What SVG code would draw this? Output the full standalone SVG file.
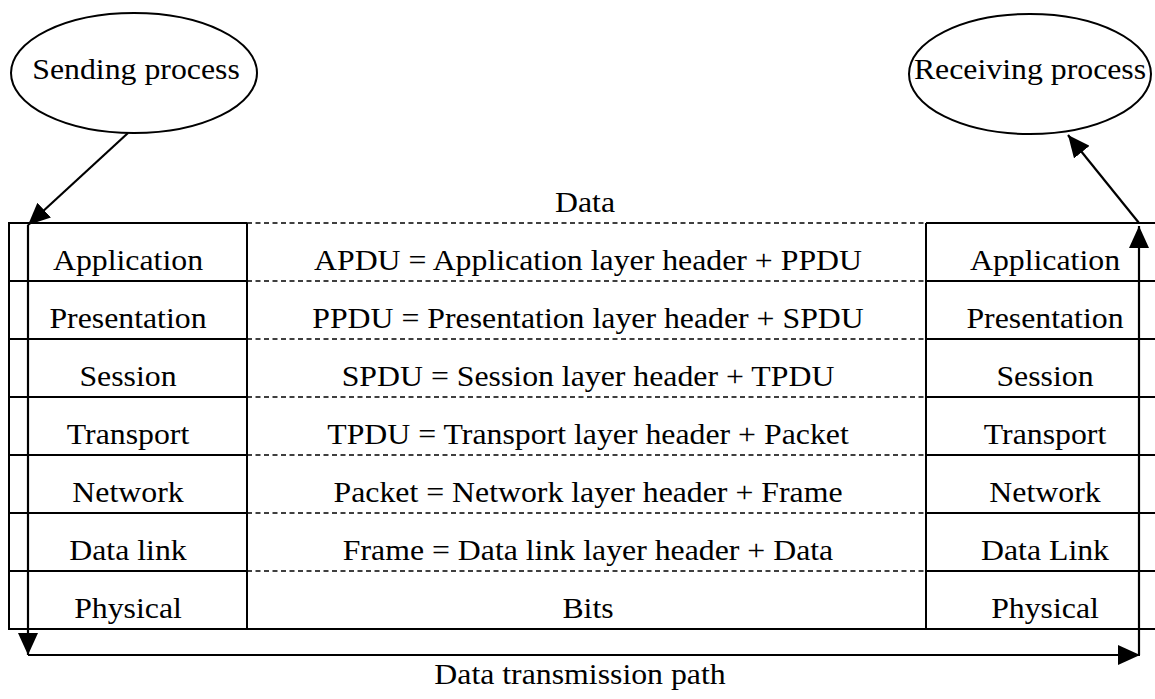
<svg xmlns="http://www.w3.org/2000/svg" width="1155" height="699" viewBox="0 0 1155 699">
  <style>
    .t { font-family: "Liberation Serif", "Times New Roman", serif; font-size: 30px; fill: #000; text-anchor: middle; }
    .solid { stroke: #000; stroke-width: 2; fill: none; }
    .dash { stroke: #000; stroke-width: 1.6; fill: none; stroke-dasharray: 5 3.5; }
    .arrow { stroke: #000; stroke-width: 2.2; fill: none; marker-end: url(#head); }
    .proc { fill: #fff; stroke: #000; stroke-width: 2; }
  </style>
  <defs>
    <marker id="head" viewBox="0 0 22 20" refX="22" refY="10" markerWidth="22" markerHeight="20" markerUnits="userSpaceOnUse" orient="auto">
      <path d="M0,0 L22,10 L0,20 z" fill="#000"/>
    </marker>
  </defs>
  <rect width="1155" height="699" fill="#fff"/>

  <!-- end processes -->
  <g id="sending-process">
    <ellipse class="proc" cx="134" cy="73" rx="123" ry="60"/>
    <text class="t" transform="translate(136,79) scale(1.06,1)">Sending process</text>
  </g>
  <g id="receiving-process">
    <ellipse class="proc" cx="1030" cy="74" rx="121" ry="60"/>
    <text class="t" transform="translate(1030,79) scale(1.06,1)">Receiving process</text>
  </g>

  <!-- layer stack frame -->
  <g id="layer-table">
    <!-- outer frame, left column and right column -->
    <path class="solid" d="M1155,223 H926 M247,223 H9 V629 H1155"/>
    <line class="solid" x1="247" y1="223" x2="247" y2="629"/>
    <line class="solid" x1="926" y1="223" x2="926" y2="629"/>
    <!-- row separators: solid in side columns, dashed across the PDU column -->
    <path class="solid" d="M9,281 H247 M9,339 H247 M9,397 H247 M9,455 H247 M9,513 H247 M9,571 H247"/>
    <path class="solid" d="M926,281 H1155 M926,339 H1155 M926,397 H1155 M926,455 H1155 M926,513 H1155 M926,571 H1155"/>
    <path class="dash" d="M247,223 H926 M247,281 H926 M247,339 H926 M247,397 H926 M247,455 H926 M247,513 H926 M247,571 H926"/>
  </g>

  <g id="label-data"><text class="t" transform="translate(585,212) scale(1.06,1)">Data</text></g>

  <g id="row-application">
    <text class="t" transform="translate(128,270) scale(1.06,1)">Application</text>
    <text class="t" transform="translate(588,270) scale(1.06,1)">APDU = Application layer header + PPDU</text>
    <text class="t" transform="translate(1045,270) scale(1.06,1)">Application</text>
  </g>
  <g id="row-presentation">
    <text class="t" transform="translate(128,328) scale(1.06,1)">Presentation</text>
    <text class="t" transform="translate(588,328) scale(1.06,1)">PPDU = Presentation layer header + SPDU</text>
    <text class="t" transform="translate(1045,328) scale(1.06,1)">Presentation</text>
  </g>
  <g id="row-session">
    <text class="t" transform="translate(128,386) scale(1.06,1)">Session</text>
    <text class="t" transform="translate(588,386) scale(1.06,1)">SPDU = Session layer header + TPDU</text>
    <text class="t" transform="translate(1045,386) scale(1.06,1)">Session</text>
  </g>
  <g id="row-transport">
    <text class="t" transform="translate(128,444) scale(1.06,1)">Transport</text>
    <text class="t" transform="translate(588,444) scale(1.06,1)">TPDU = Transport layer header + Packet</text>
    <text class="t" transform="translate(1045,444) scale(1.06,1)">Transport</text>
  </g>
  <g id="row-network">
    <text class="t" transform="translate(128,502) scale(1.06,1)">Network</text>
    <text class="t" transform="translate(588,502) scale(1.06,1)">Packet = Network layer header + Frame</text>
    <text class="t" transform="translate(1045,502) scale(1.06,1)">Network</text>
  </g>
  <g id="row-datalink">
    <text class="t" transform="translate(128,560) scale(1.06,1)">Data link</text>
    <text class="t" transform="translate(588,560) scale(1.06,1)">Frame = Data link layer header + Data</text>
    <text class="t" transform="translate(1045,560) scale(1.06,1)">Data Link</text>
  </g>
  <g id="row-physical">
    <text class="t" transform="translate(128,618) scale(1.06,1)">Physical</text>
    <text class="t" transform="translate(588,618) scale(1.06,1)">Bits</text>
    <text class="t" transform="translate(1045,618) scale(1.06,1)">Physical</text>
  </g>

  <g id="label-path"><text class="t" transform="translate(580,684) scale(1.06,1)">Data transmission path</text></g>

  <!-- data flow connectors -->
  <g id="connectors">
    <line class="arrow" x1="128" y1="133" x2="28" y2="225"/>
    <line class="arrow" x1="28" y1="225" x2="28" y2="655"/>
    <line class="arrow" x1="28" y1="655" x2="1140" y2="655"/>
    <line class="arrow" x1="1139" y1="655" x2="1139" y2="226"/>
    <line class="arrow" x1="1139" y1="223" x2="1068" y2="135"/>
  </g>
</svg>
